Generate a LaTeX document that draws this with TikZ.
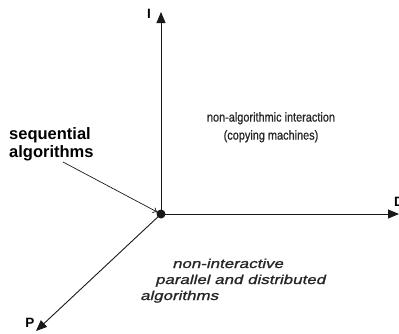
\documentclass[tikz,border=0pt]{standalone}
\usepackage{fontspec}
\setmainfont{Liberation Sans}
\newfontfamily\narrowfont[FakeStretch=0.84, FakeBold=0.8]{Liberation Sans}
\newfontfamily\widefont[FakeStretch=1.3, FakeBold=1.2, FakeSlant=0.25]{Liberation Sans}
\usetikzlibrary{arrows.meta, positioning}
\definecolor{axisBlack}{gray}{0.1}
\definecolor{noteGray}{gray}{0.15}

\begin{document}
\begin{tikzpicture}[x=1pt, y=-1pt,
    axis/.style={axisBlack, line width=0.9pt, -{Triangle[length=11pt, width=9pt]}},
    axislabel/.style={font=\fontsize{13.5}{15}\selectfont\bfseries, inner sep=0pt}]
    \useasboundingbox (0,0) rectangle (399,333);

    % Origin and axis ends
    \coordinate (origin) at (161,214);
    \coordinate (iEnd) at (161,12);
    \coordinate (dEnd) at (399,214);
    \coordinate (pEnd) at (36,331);

    % Axes
    \draw[axis] (origin) -- (iEnd);
    \draw[axis] (origin) -- (dEnd);
    \draw[axis] (origin) -- (pEnd);
    \fill[axisBlack] (origin) circle (4.5);

    % Axis labels
    \node[axislabel] (iLabel) at (149,14) {I};
    \node[axislabel] (dLabel) at (399,202) {D};
    \node[axislabel] (pLabel) at (30,323) {P};

    % Sequential algorithms pointing at the origin
    \node[anchor=north west, inner sep=0pt, align=left,
          font=\fontsize{16.5}{18}\selectfont\bfseries] (seq) at (9,127)
          {sequential\\algorithms};
    \coordinate (seqStart) at (63,162);
    \draw[axisBlack, line width=0.7pt, -{To[length=5pt, width=6pt]}, shorten >=3.5pt]
        (seqStart) -- (origin);

    % Region notes
    \node[anchor=north, inner sep=0pt, align=center, noteGray,
          font=\narrowfont\fontsize{13}{18}\selectfont] (interaction) at (271,112)
          {non-algorithmic interaction\\(copying machines)};
    \node[anchor=base west, inner sep=0pt, noteGray,
          font=\widefont\fontsize{13}{16}\selectfont] (parA) at (172,268) {non-interactive};
    \node[anchor=base west, inner sep=0pt, noteGray,
          font=\widefont\fontsize{13}{16}\selectfont] (parB) at (155,284) {parallel and distributed};
    \node[anchor=base west, inner sep=0pt, noteGray,
          font=\widefont\fontsize{13}{16}\selectfont] (parC) at (140,300) {algorithms};
\end{tikzpicture}
\end{document}
